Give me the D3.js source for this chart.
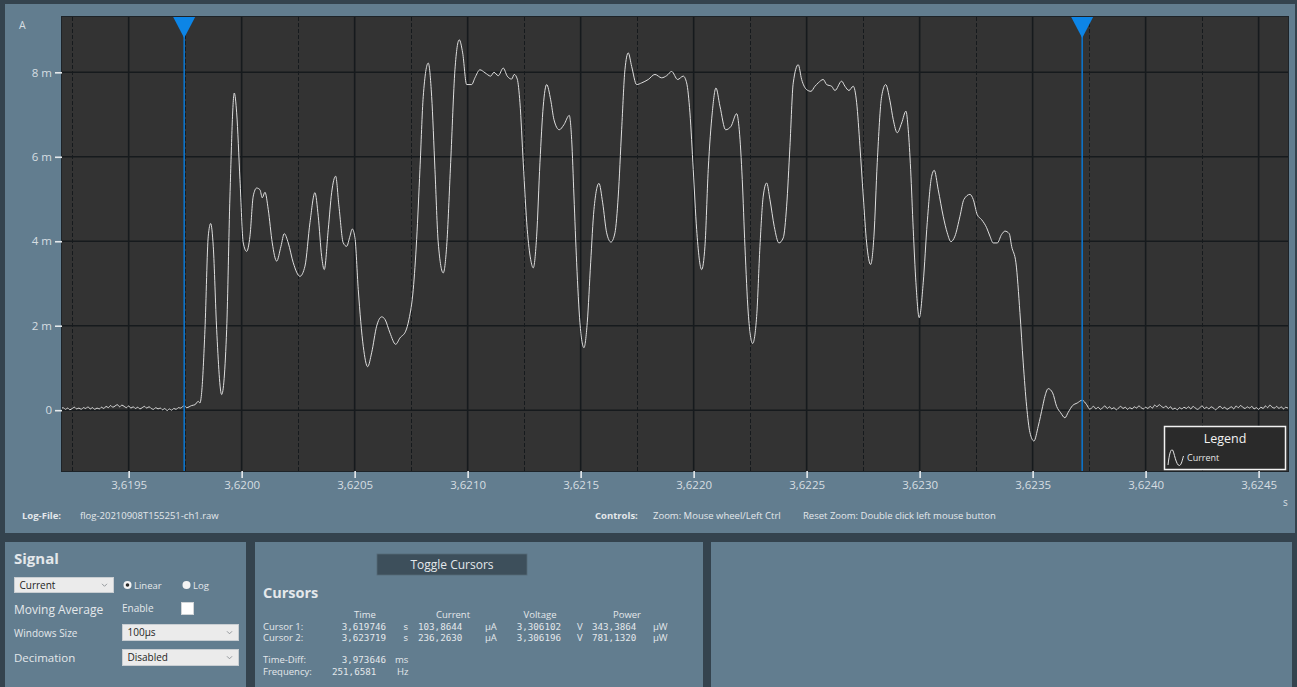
<!DOCTYPE html>
<html>
<head>
<meta charset="utf-8">
<script src="https://cdn.jsdelivr.net/npm/d3@7/dist/d3.min.js"></script>
<style>
  html, body { margin: 0; padding: 0; background: #33424d; }
  svg { display: block; }
  text { font-family: "Open Sans", "Noto Sans", sans-serif; }
  .mono { font-family: "DejaVu Sans Mono", "Liberation Mono", monospace; }
</style>
</head>
<body>
<svg id="chart" width="1297" height="687"></svg>
<script>
// ---------------- data ----------------
// Axis ticks
const xTickValues = [3.6195, 3.6200, 3.6205, 3.6210, 3.6215, 3.6220, 3.6225, 3.6230, 3.6235, 3.6240, 3.6245];
const xMinorValues = [3.61925, 3.61975, 3.62025, 3.62075, 3.62125, 3.62175, 3.62225, 3.62275, 3.62325, 3.62375, 3.62425];
const yTickValues = [0, 2, 4, 6, 8];          // mA

// Idle baseline before the burst: samples every 10 µs from 3.61920 s (mA)
const idleStartA = 3.61920;
const idleCurrentA = [0.03, 0.06, 0.02, 0.05, 0.01, 0.04, 0.07, 0.03, 0.05, 0.02,
  0.06, 0.04, 0.08, 0.03, 0.06, 0.02, 0.05, 0.03, 0.07, 0.04,
  0.09, 0.06, 0.11, 0.07, 0.10, 0.13, 0.08, 0.12, 0.09, 0.06,
  0.10, 0.05, 0.08, 0.04, 0.07, 0.03, 0.06, 0.09, 0.05, 0.08,
  0.04, 0.02, 0.06, 0.03, 0.05, 0.01, 0.04, -0.01, 0.03, 0.00,
  0.04, 0.02, 0.06, 0.05, 0.09];

// Burst (s, mA)
const burstTime = [
  3.6197566, 3.6197788, 3.6197934, 3.6198080, 3.6198155, 3.6198230, 3.6198376, 3.6198522, 3.6198628, 3.6198743,
  3.6198894, 3.6199115, 3.6199336, 3.6199482, 3.6199673, 3.6199779, 3.6199925, 3.6200071, 3.6200221, 3.6200367,
  3.6200513, 3.6200664, 3.6200810, 3.6200912, 3.6201031, 3.6201177, 3.6201354, 3.6201549, 3.6201739, 3.6201885,
  3.6202062, 3.6202283, 3.6202580, 3.6202801, 3.6203022, 3.6203243, 3.6203389, 3.6203540, 3.6203655, 3.6203832,
  3.6203982, 3.6204159, 3.6204305, 3.6204496, 3.6204646, 3.6204792, 3.6204894, 3.6205013, 3.6205159, 3.6205381,
  3.6205575, 3.6205752, 3.6205973, 3.6206195, 3.6206341, 3.6206562, 3.6206814, 3.6207004, 3.6207257, 3.6207403,
  3.6207593, 3.6207743, 3.6207889, 3.6208035, 3.6208257, 3.6208407, 3.6208553, 3.6208699, 3.6208920, 3.6209071,
  3.6209248, 3.6209438, 3.6209628, 3.6209779, 3.6209956, 3.6210177, 3.6210323, 3.6210544, 3.6210766, 3.6211018,
  3.6211164, 3.6211354, 3.6211575, 3.6211752, 3.6211947, 3.6212062, 3.6212195, 3.6212314, 3.6212460, 3.6212637,
  3.6212788, 3.6212903, 3.6213053, 3.6213199, 3.6213345, 3.6213496, 3.6213673, 3.6213819, 3.6214053, 3.6214261,
  3.6214496, 3.6214602, 3.6214704, 3.6214823, 3.6214969, 3.6215146, 3.6215292, 3.6215443, 3.6215589, 3.6215810,
  3.6215974, 3.6216151, 3.6216341, 3.6216518, 3.6216664, 3.6216814, 3.6216960, 3.6217106, 3.6217257, 3.6217478,
  3.6217699, 3.6217991, 3.6218288, 3.6218584, 3.6218805, 3.6219027, 3.6219292, 3.6219540, 3.6219690, 3.6219836,
  3.6219982, 3.6220133, 3.6220354, 3.6220500, 3.6220646, 3.6220823, 3.6220987, 3.6221164, 3.6221416, 3.6221651,
  3.6221903, 3.6222018, 3.6222151, 3.6222270, 3.6222416, 3.6222611, 3.6222788, 3.6222934, 3.6223080, 3.6223230,
  3.6223376, 3.6223566, 3.6223774, 3.6223965, 3.6224115, 3.6224261, 3.6224407, 3.6224628, 3.6224779, 3.6225000,
  3.6225190, 3.6225367, 3.6225513, 3.6225735, 3.6225885, 3.6226106, 3.6226252, 3.6226549, 3.6226695, 3.6226872,
  3.6227062, 3.6227213, 3.6227359, 3.6227505, 3.6227655, 3.6227832, 3.6227978, 3.6228124, 3.6228319, 3.6228496,
  3.6228686, 3.6228832, 3.6229009, 3.6229204, 3.6229394, 3.6229496, 3.6229602, 3.6229717, 3.6229836, 3.6229982,
  3.6230159, 3.6230336, 3.6230531, 3.6230646, 3.6230823, 3.6231044, 3.6231221, 3.6231385, 3.6231562, 3.6231784,
  3.6231960, 3.6232226, 3.6232372, 3.6232549, 3.6232744, 3.6232965, 3.6233111, 3.6233257, 3.6233434, 3.6233628,
  3.6233775, 3.6233965, 3.6234071, 3.6234261, 3.6234438, 3.6234584, 3.6234735, 3.6234881, 3.6235058, 3.6235248,
  3.6235443, 3.6235544, 3.6235690, 3.6235885, 3.6236062, 3.6236239, 3.6236429, 3.6236575, 3.6236770, 3.6236974,
  3.6237390, 3.6237536];
const burstCurrent = [
  0.06, 0.11, 0.13, 0.21, 0.17, 0.42, 1.91, 4.12, 4.42, 3.88,
  1.91, 0.37, 1.91, 5.07, 7.51, 7.04, 5.46, 3.96, 3.76, 4.12,
  5.07, 5.26, 5.22, 5.03, 5.16, 4.75, 3.96, 3.53, 3.88, 4.18,
  3.96, 3.49, 3.17, 3.41, 4.44, 5.15, 4.59, 3.64, 3.33, 4.28,
  5.15, 5.54, 4.83, 3.96, 3.88, 4.12, 4.29, 4.08, 2.86, 1.51,
  1.03, 1.36, 1.99, 2.21, 2.15, 1.83, 1.56, 1.71, 1.87, 2.15,
  2.86, 4.04, 5.70, 7.43, 8.22, 7.43, 5.70, 3.96, 3.25, 3.88,
  5.86, 8.06, 8.77, 8.46, 7.71, 7.71, 7.87, 8.06, 7.99, 7.91,
  8.00, 7.92, 8.10, 7.91, 7.84, 7.95, 7.84, 7.28, 5.86, 4.28,
  3.57, 3.37, 4.12, 5.86, 7.20, 7.71, 7.35, 6.88, 6.64, 6.76,
  6.98, 6.41, 5.07, 3.49, 2.07, 1.48, 2.07, 3.49, 4.75, 5.37,
  4.91, 4.20, 3.98, 4.20, 5.07, 6.64, 8.06, 8.46, 8.14, 7.71,
  7.75, 7.83, 7.95, 7.87, 7.92, 8.02, 7.83, 7.91, 7.75, 7.04,
  5.70, 4.28, 3.33, 3.88, 5.70, 7.04, 7.63, 7.20, 6.64, 6.72,
  7.02, 6.64, 5.46, 3.88, 2.30, 1.58, 2.22, 3.88, 5.07, 5.38,
  4.99, 4.35, 3.96, 4.08, 4.83, 6.25, 7.75, 8.18, 7.83, 7.59,
  7.55, 7.67, 7.75, 7.83, 7.71, 7.67, 7.57, 7.79, 7.67, 7.57,
  7.67, 7.28, 6.25, 5.07, 3.96, 3.45, 4.12, 5.86, 7.43, 7.71,
  7.33, 6.88, 6.57, 6.80, 7.08, 6.64, 5.70, 4.28, 3.02, 2.19,
  3.02, 4.44, 5.54, 5.68, 5.22, 4.59, 4.20, 3.99, 4.12, 4.59,
  4.99, 5.11, 4.99, 4.63, 4.51, 4.32, 4.12, 3.96, 3.96, 4.16,
  4.24, 4.18, 3.88, 3.49, 2.31, 1.12, 0.09, -0.53, -0.73, -0.38,
  0.09, 0.33, 0.51, 0.41, 0.09, -0.06, -0.18, -0.05, 0.11, 0.17,
  0.13, 0.02];

// Idle baseline after the burst: samples every 10 µs from 3.62376 s (mA)
const idleStartB = 3.62376;
const idleCurrentB = [0.05, 0.09, 0.03, 0.07, 0.02, 0.06, 0.10, 0.04, 0.08, 0.03,
  0.06, 0.01, 0.05, 0.09, 0.04, 0.07, 0.02, 0.06, 0.03, 0.08,
  0.05, 0.10, 0.06, 0.03, 0.07, 0.04, 0.09, 0.05, 0.12, 0.08,
  0.13, 0.09, 0.06, 0.10, 0.04, 0.08, 0.02, 0.05, 0.01, 0.06,
  0.03, 0.07, 0.04, 0.08, 0.03, 0.09, 0.05, 0.02, 0.06, 0.10,
  0.04, 0.07, 0.03, 0.08, 0.05, 0.01, 0.06, 0.09, 0.04, 0.07,
  0.02, 0.05, 0.08, 0.03, 0.10, 0.06, 0.11, 0.07, 0.04, 0.08,
  0.05, 0.09, 0.03, 0.06, 0.02, 0.07, 0.04, 0.10, 0.06, 0.12,
  0.07, 0.05, 0.09, 0.04, 0.08, 0.03, 0.07, 0.05, 0.09];
const sampleStep = 0.00001;

// Cursor readout
const cursorLabels = ["Cursor 1:", "Cursor 2:"];
const cursorTime = [3.6197456, 3.623719246];      // s
const cursorCurrentUA = [103.8644, 236.2630];     // µA
const cursorVoltage = [3.306102, 3.306196];       // V
const cursorPowerUW = [343.3864, 781.1320];       // µW
const timeDiffMs = 3.973646;
const frequencyHz = 251.6581;

// ---------------- assemble trace ----------------
const trace = [];
idleCurrentA.forEach((v, i) => trace.push({ t: idleStartA + i * sampleStep, v }));
burstTime.forEach((t, i) => trace.push({ t, v: burstCurrent[i] }));
idleCurrentB.forEach((v, i) => trace.push({ t: idleStartB + i * sampleStep, v }));
cursorTime.forEach((t, i) => trace.push({ t, v: cursorCurrentUA[i] / 1000 }));
trace.sort((a, b) => a.t - b.t);

// ---------------- layout ----------------
const W = 1297, H = 687;
const plot = { left: 62, top: 17, right: 1288, bottom: 471 };
const C = {
  frame: "#34434e",
  panel: "#627d8f",
  plotBg: "#333333",
  grid: "#161a1d",
  text: "#e4e8eb",
  axisText: "#d6dde2",
  trace: "#dedede",
  cursor: "#0a78d4",
  marker: "#0d85e6",
  button: "#3d4f5b"
};

const svg = d3.select("#chart");
svg.append("rect").attr("width", W).attr("height", H).attr("fill", C.frame);

// panels
svg.append("rect").attr("x", 5).attr("y", 4).attr("width", 1290).attr("height", 529).attr("fill", C.panel);
svg.append("rect").attr("x", 5).attr("y", 542).attr("width", 241).attr("height", 145).attr("fill", C.panel);
svg.append("rect").attr("x", 255).attr("y", 542).attr("width", 448).attr("height", 145).attr("fill", C.panel);
svg.append("rect").attr("x", 711).attr("y", 542).attr("width", 581).attr("height", 145).attr("fill", C.panel);

// scales
const x = d3.scaleLinear().domain([3.619205, 3.624630]).range([plot.left, plot.right]);
const y = d3.scaleLinear().domain([-1.44, 9.31]).range([plot.bottom, plot.top]);

svg.append("defs").append("clipPath").attr("id", "plotClip")
  .append("rect").attr("x", plot.left).attr("y", plot.top)
  .attr("width", plot.right - plot.left).attr("height", plot.bottom - plot.top);

svg.append("rect").attr("x", plot.left).attr("y", plot.top)
  .attr("width", plot.right - plot.left).attr("height", plot.bottom - plot.top)
  .attr("fill", C.plotBg);

// grid
const grid = svg.append("g").attr("clip-path", "url(#plotClip)");
grid.selectAll(".vminor").data(xMinorValues).join("line")
  .attr("x1", d => Math.round(x(d)) + 0.5).attr("x2", d => Math.round(x(d)) + 0.5)
  .attr("y1", plot.top).attr("y2", plot.bottom)
  .attr("stroke", C.grid).attr("stroke-width", 1).attr("stroke-dasharray", "4,2");
grid.selectAll(".vmajor").data(xTickValues).join("line")
  .attr("x1", d => x(d)).attr("x2", d => x(d))
  .attr("y1", plot.top).attr("y2", plot.bottom)
  .attr("stroke", C.grid).attr("stroke-width", 1.6);
grid.selectAll(".hmajor").data(yTickValues).join("line")
  .attr("x1", plot.left).attr("x2", plot.right)
  .attr("y1", d => y(d)).attr("y2", d => y(d))
  .attr("stroke", C.grid).attr("stroke-width", 1.6);

// plot outline
svg.append("rect").attr("x", plot.left - 0.5).attr("y", plot.top - 0.5)
  .attr("width", plot.right - plot.left + 1).attr("height", plot.bottom - plot.top + 1)
  .attr("fill", "none").attr("stroke", "#1d2328").attr("stroke-width", 1);

// axes
const fmtAxis = d3.formatLocale({ decimal: ",", thousands: ".", grouping: [3], currency: ["", ""] });
const xAxis = d3.axisBottom(x).tickValues(xTickValues).tickSize(7).tickPadding(3)
  .tickFormat(fmtAxis.format(".4f"));
const yAxis = d3.axisLeft(y).tickValues(yTickValues).tickSize(7).tickPadding(3)
  .tickFormat(d => d === 0 ? "0" : d + " m");

const gx = svg.append("g").attr("transform", `translate(0,${plot.bottom})`).call(xAxis);
const gy = svg.append("g").attr("transform", `translate(${plot.left},0)`).call(yAxis);
[gx, gy].forEach(g => {
  g.select(".domain").remove();
  g.selectAll(".tick line").attr("stroke", "#e6eaed").attr("stroke-width", 1.6);
  g.selectAll(".tick text").attr("fill", C.axisText)
    .style("font-family", "'Open Sans', sans-serif").style("font-size", "11.5px");
});

svg.append("text").attr("x", 19).attr("y", 29).attr("fill", C.axisText)
  .style("font-size", "10.5px").text("A");
svg.append("text").attr("x", 1283).attr("y", 506).attr("fill", C.axisText)
  .style("font-size", "10px").text("s");

// trace
const line = d3.line().x(d => x(d.t)).y(d => y(d.v)).curve(d3.curveMonotoneX);
svg.append("path").datum(trace)
  .attr("clip-path", "url(#plotClip)")
  .attr("d", line).attr("fill", "none")
  .attr("stroke", C.trace).attr("stroke-width", 1).attr("stroke-linejoin", "round");

// cursors
const cursors = svg.append("g");
cursorTime.forEach(t => {
  const cx = x(t);
  cursors.append("line").attr("x1", cx).attr("x2", cx).attr("y1", plot.top).attr("y2", plot.bottom)
    .attr("stroke", C.cursor).attr("stroke-width", 1.5);
  cursors.append("path")
    .attr("d", `M${cx - 11},${plot.top} L${cx + 11},${plot.top} L${cx},${plot.top + 21} Z`)
    .attr("fill", C.marker);
});

// legend
const lg = svg.append("g");
lg.append("rect").attr("x", 1164.5).attr("y", 426.5).attr("width", 121).attr("height", 43)
  .attr("fill", "#2a2a2a").attr("stroke", "#f2f2f2").attr("stroke-width", 1.5);
lg.append("text").attr("x", 1225).attr("y", 443).attr("text-anchor", "middle")
  .attr("fill", "#f2f2f2").style("font-size", "12.5px").text("Legend");
lg.append("path")
  .attr("d", "M1168,465 C1169.5,452 1171,449 1172.5,450 C1174,451 1176,466 1179.5,465.5 C1181.5,465 1182.5,459 1183.5,456")
  .attr("fill", "none").attr("stroke", "#e6e6e6").attr("stroke-width", 1);
lg.append("text").attr("x", 1187).attr("y", 461).attr("fill", "#e6e6e6")
  .style("font-size", "9px").text("Current");

// footer line under the chart
function label(x0, y0, txt, opts = {}) {
  return svg.append("text").attr("x", x0).attr("y", y0)
    .attr("fill", opts.fill || C.text)
    .attr("text-anchor", opts.anchor || "start")
    .style("font-size", (opts.size || 10) + "px")
    .style("font-weight", opts.bold ? "700" : "400")
    .attr("class", opts.mono ? "mono" : null)
    .text(txt);
}
label(22, 519, "Log-File:", { bold: true, size: 9.5 });
label(80, 519, "flog-20210908T155251-ch1.raw", { size: 9.5 });
label(595, 519, "Controls:", { bold: true, size: 9.5 });
label(653, 519, "Zoom: Mouse wheel/Left Ctrl", { size: 9.5 });
label(803, 519, "Reset Zoom: Double click left mouse button", { size: 9.5 });

// ---------------- Signal panel ----------------
label(14, 564, "Signal", { bold: true, size: 15 });

function dropdown(x0, y0, w, h, txt) {
  svg.append("rect").attr("x", x0).attr("y", y0).attr("width", w).attr("height", h)
    .attr("fill", "#ebebeb").attr("stroke", "#c9ced2").attr("stroke-width", 1);
  label(x0 + 5, y0 + h / 2 + 3.5, txt, { fill: "#1e1e1e", size: 10 });
  const ax = x0 + w - 9, ay = y0 + h / 2;
  svg.append("path").attr("d", `M${ax - 2.5},${ay - 1.2} L${ax},${ay + 1.3} L${ax + 2.5},${ay - 1.2}`)
    .attr("fill", "none").attr("stroke", "#8a8f93").attr("stroke-width", 0.9);
}
dropdown(14.5, 577.5, 99, 15, "Current");
dropdown(122.5, 624.5, 116, 16, "100µs");
dropdown(122.5, 649.5, 116, 16, "Disabled");

svg.append("circle").attr("cx", 127.5).attr("cy", 585).attr("r", 4).attr("fill", "#f4f4f4");
svg.append("circle").attr("cx", 127.5).attr("cy", 585).attr("r", 1.8).attr("fill", "#2a2a2a");
label(134, 588.5, "Linear", { size: 9.5 });
svg.append("circle").attr("cx", 186.5).attr("cy", 585).attr("r", 4).attr("fill", "#f4f4f4");
label(193, 588.5, "Log", { size: 9.5 });

label(14, 614, "Moving Average", { size: 12 });
label(122, 612, "Enable", { size: 10 });
svg.append("rect").attr("x", 181.5).attr("y", 602.5).attr("width", 12).attr("height", 12)
  .attr("fill", "#ffffff").attr("stroke", "#d0d4d7");
label(14, 637, "Windows Size", { size: 10 });
label(14, 662, "Decimation", { size: 11.5 });

// ---------------- Cursors panel ----------------
svg.append("rect").attr("x", 377).attr("y", 554).attr("width", 150).attr("height", 21)
  .attr("fill", C.button).attr("stroke", "#566a77").attr("stroke-width", 0.8);
label(452, 569, "Toggle Cursors", { anchor: "middle", size: 12 });
label(263, 598, "Cursors", { bold: true, size: 14.5 });

const fmtNum = (spec) => fmtAxis.format(spec);
const colHeads = [["Time", 365], ["Current", 453], ["Voltage", 540], ["Power", 627]];
colHeads.forEach(([t, cx]) => label(cx, 618, t, { anchor: "middle", size: 9.5 }));

const rowY = [630, 641];
cursorLabels.forEach((lab, i) => {
  const ry = rowY[i];
  label(263, ry, lab, { size: 9.5 });
  label(386, ry, fmtNum(".6f")(cursorTime[i]), { anchor: "end", mono: true, size: 9.2 });
  label(403, ry, "s", { mono: true, size: 9.2 });
  label(418, ry, fmtNum(".4f")(cursorCurrentUA[i]), { mono: true, size: 9.2 });
  label(485, ry, "µA", { size: 9.5 });
  label(561, ry, fmtNum(".6f")(cursorVoltage[i]), { anchor: "end", mono: true, size: 9.2 });
  label(577, ry, "V", { size: 9.5 });
  label(592, ry, fmtNum(".4f")(cursorPowerUW[i]), { mono: true, size: 9.2 });
  label(653, ry, "µW", { size: 9.5 });
});

label(263, 663, "Time-Diff:", { size: 9.5 });
label(386, 663, fmtNum(".6f")(timeDiffMs), { anchor: "end", mono: true, size: 9.2 });
label(395, 663, "ms", { size: 9.5 });
label(263, 675, "Frequency:", { size: 9.5 });
label(332, 675, fmtNum(".4f")(frequencyHz), { mono: true, size: 9.2 });
label(397, 675, "Hz", { size: 9.5 });
</script>
</body>
</html>
